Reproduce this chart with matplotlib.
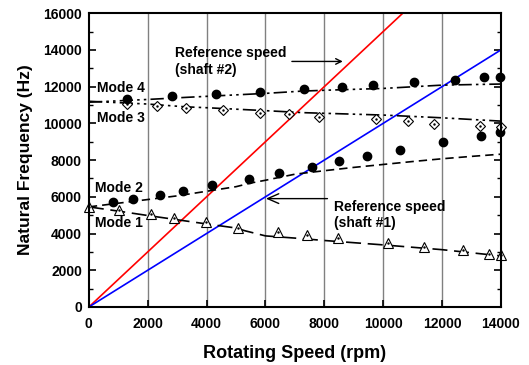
import matplotlib.pyplot as plt

plt.rcParams["font.family"] = ["Liberation Sans", "DejaVu Sans"]
plt.rcParams["font.weight"] = "bold"

# measured natural frequencies (Hz) vs rotating speed (rpm)
mode1_rpm = [0, 1020, 2095, 2900, 3980, 5080, 6440, 7400, 8480, 10150, 11395, 12700, 13600, 13990]
mode1_hz = [5450, 5280, 5045, 4827, 4644, 4281, 4100, 3918, 3737, 3465, 3283, 3085, 2900, 2846]

mode2_rpm = [805, 1483, 2415, 3197, 4184, 5452, 6463, 7570, 8503, 9432, 10566, 12017, 13310, 13980]
mode2_hz = [5732, 5861, 6095, 6313, 6621, 6988, 7275, 7636, 7946, 8200, 8526, 8961, 9325, 9540]

mode3_rpm = [1303, 2323, 3310, 4544, 5816, 6813, 7823, 9748, 10837, 11735, 13300, 13990]
mode3_hz = [11048, 10939, 10830, 10721, 10558, 10521, 10340, 10231, 10104, 9976, 9850, 9812]

mode4_rpm = [1303, 2812, 4320, 5816, 7313, 8616, 9646, 11061, 12449, 13424, 13980]
mode4_hz = [11320, 11467, 11575, 11700, 11864, 11955, 12082, 12245, 12354, 12517, 12517]

# predicted curves
m1_line_rpm = [0, 1000, 2000, 3000, 4000, 5000, 5300, 6000, 7000, 8000, 9000, 10000, 11000, 12000, 13000, 14000]
m1_line_hz = [5450, 5220, 4980, 4750, 4520, 4300, 4150, 3870, 3750, 3620, 3500, 3380, 3250, 3120, 2950, 2780]

m2_line_rpm = [0, 1000, 2000, 3000, 4000, 5000, 5500, 6000, 7000, 8000, 9000, 10000, 11000, 12000, 13000, 14000]
m2_line_hz = [5450, 5650, 5850, 6050, 6300, 6550, 6750, 6900, 7230, 7420, 7600, 7760, 7920, 8070, 8200, 8320]

m3_line_rpm = [0, 2000, 3265, 4000, 6000, 7300, 10000, 12000, 14000]
m3_line_hz = [11200, 11050, 10900, 10850, 10690, 10580, 10450, 10300, 10120]

m4_line_rpm = [0, 2000, 3265, 6000, 7200, 8000, 10000, 12000, 14000]
m4_line_hz = [11150, 11300, 11410, 11630, 11750, 11800, 11900, 12080, 12140]

# reference speed lines (frequency = factor * rpm)
ref_rpm = [0, 14000]
ref_shaft1 = [0, 14000]
ref_shaft2 = [0, 21000]

fig = plt.figure(figsize=(5.29, 3.65), dpi=100)
ax = fig.add_axes([0.168, 0.159, 0.779, 0.805])

for x in range(2000, 14000, 2000):
    ax.axvline(x, color="#808080", lw=1.0, zorder=0)

ax.plot(ref_rpm, ref_shaft2, color="red", lw=1.2)
ax.plot(ref_rpm, ref_shaft1, color="blue", lw=1.2)

ax.plot(m1_line_rpm, m1_line_hz, color="black", lw=1.2, dashes=(9, 4))
ax.plot(m2_line_rpm, m2_line_hz, color="black", lw=1.2, dashes=(5, 3))
ax.plot(m3_line_rpm, m3_line_hz, color="black", lw=1.2, dashes=(8, 2.5, 1.5, 2.5, 1.5, 2.5))
ax.plot(m4_line_rpm, m4_line_hz, color="black", lw=1.2, dashes=(8, 2.5, 1.5, 2.5, 1.5, 2.5))

ax.plot(mode1_rpm, mode1_hz, "^", ms=6.5, mfc="white", mec="black", mew=0.8, clip_on=False)
ax.plot(mode1_rpm, mode1_hz, ".", ms=1.5, color="black", clip_on=False)
ax.plot(mode2_rpm, mode2_hz, "o", ms=6, color="black", clip_on=False)
ax.plot(mode3_rpm, mode3_hz, "D", ms=5, mfc="white", mec="black", mew=0.8, clip_on=False)
ax.plot(mode3_rpm, mode3_hz, ".", ms=1.5, color="black", clip_on=False)
ax.plot(mode4_rpm, mode4_hz, "o", ms=6, color="black", clip_on=False)

ax.text(260, 11950, "Mode 4", fontsize=10, fontweight="bold", va="center")
ax.text(260, 10290, "Mode 3", fontsize=10, fontweight="bold", va="center")
ax.text(200, 6480, "Mode 2", fontsize=10, fontweight="bold", va="center")
ax.text(200, 4590, "Mode 1", fontsize=10, fontweight="bold", va="center")

ax.annotate("Reference speed\n(shaft #2)", xy=(8720, 13370), xytext=(2920, 13370),
            fontsize=10, fontweight="bold", va="center", ha="left",
            arrowprops=dict(arrowstyle="->", color="black", lw=1.0))
ax.annotate("", xy=(5920, 5900), xytext=(8200, 5900),
            arrowprops=dict(arrowstyle="->,head_length=0.8,head_width=0.35", color="black", lw=1.0))
ax.text(8330, 5000, "Reference speed\n(shaft #1)", fontsize=10, fontweight="bold", va="center")

ax.set_xlim(0, 14000)
ax.set_ylim(0, 16000)
ax.set_xticks(range(0, 14001, 2000))
ax.set_yticks(range(0, 16001, 2000))
ax.set_yticks(range(0, 16001, 1000), minor=True)
ax.tick_params(direction="in", labelsize=10, width=1.2, length=5, right=True, top=False, pad=5)
ax.tick_params(axis="x", pad=7)
ax.tick_params(which="minor", direction="in", width=1.0, length=3, right=True)
for lab in ax.get_xticklabels() + ax.get_yticklabels():
    lab.set_fontweight("bold")
for s in ax.spines.values():
    s.set_linewidth(1.5)

ax.set_xlabel("Rotating Speed (rpm)", fontsize=13, fontweight="bold", labelpad=10)
ax.set_ylabel("Natural Frequency (Hz)", fontsize=12.5, fontweight="bold", labelpad=7)

fig.savefig("out.png", dpi=100)
